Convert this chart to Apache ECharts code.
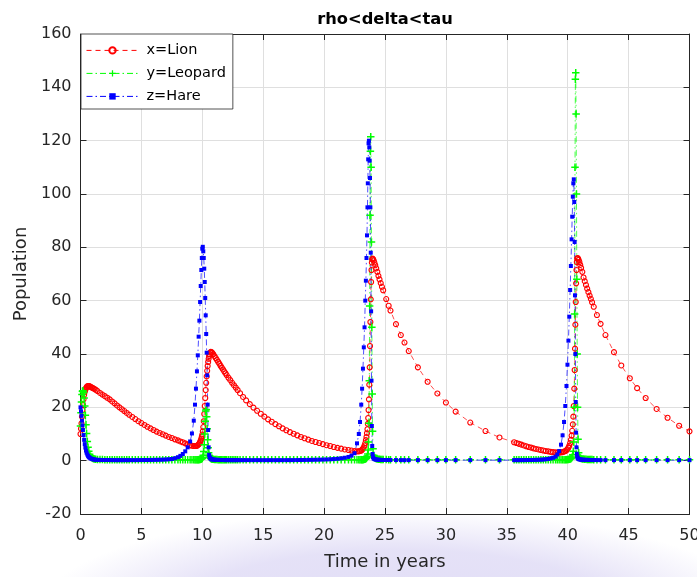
<!DOCTYPE html>
<html>
<head>
<meta charset="utf-8">
<script src="https://cdn.jsdelivr.net/npm/echarts@6/dist/echarts.min.js"></script>
<style>
  html, body { margin: 0; padding: 0; background: #ffffff; }
  #chart { width: 697px; height: 577px; }
</style>
</head>
<body>
<div id="chart"></div>
<script>
// Time samples of the solver output (years); dense where populations change fast
const years = [
  0, 0.04, 0.08, 0.12, 0.16, 0.2, 0.25, 0.3, 0.35, 0.4, 0.45, 0.5, 0.56, 0.62, 0.68, 0.75, 0.82, 0.9, 0.98, 1.06, 1.15, 1.25,
  1.4, 1.6, 1.8, 2.0, 2.2, 2.4, 2.6, 2.8, 3.0, 3.2, 3.4, 3.6, 3.8, 4.0, 4.25, 4.5, 4.75, 5.0, 5.25, 5.5, 5.75, 6.0, 6.25, 6.5, 6.75, 7.0, 7.25, 7.5, 7.75, 8.0, 8.2, 8.4, 8.6,
  8.8, 9.0, 9.15, 9.3, 9.4, 9.48, 9.56, 9.63, 9.7, 9.76, 9.82, 9.87, 9.92, 9.96, 10.0, 10.04, 10.08, 10.12, 10.16, 10.2, 10.24, 10.28, 10.32, 10.36, 10.4, 10.44, 10.48, 10.52, 10.56, 10.6, 10.65, 10.7, 10.76, 10.82, 10.9, 11.0,
  11.1, 11.2, 11.3, 11.4, 11.5, 11.6, 11.7, 11.8, 11.9, 12.0, 12.15, 12.3, 12.45, 12.6, 12.75, 12.9, 13.1, 13.35, 13.6, 13.9, 14.2, 14.5, 14.8, 15.1, 15.4, 15.7, 16.0, 16.3, 16.6, 16.9, 17.2, 17.5, 17.8, 18.1, 18.4, 18.7, 19.0, 19.3, 19.6, 19.9, 20.2, 20.5, 20.8, 21.1, 21.4, 21.7, 22.0, 22.25, 22.5,
  22.7, 22.85, 22.95, 23.05, 23.12, 23.19, 23.26, 23.32, 23.38, 23.43, 23.48, 23.52, 23.56, 23.59, 23.62, 23.65, 23.68, 23.71, 23.74, 23.77, 23.8, 23.83, 23.86, 23.89, 23.92, 23.95, 23.98, 24.02, 24.07, 24.13, 24.2, 24.28, 24.37, 24.46,
  24.55, 24.65, 24.75, 24.85, 25.1, 25.3, 25.45, 25.9, 26.3, 26.6, 26.95, 27.7, 28.5, 29.3, 30.0, 30.8, 32.0, 33.25, 34.4, 35.6, 35.8, 36.0, 36.2, 36.4, 36.6, 36.8, 37.0, 37.2, 37.4, 37.6, 37.8, 38.0, 38.2, 38.4, 38.6, 38.8, 39.0,
  39.15, 39.3, 39.45, 39.58, 39.7, 39.8, 39.9, 39.98, 40.06, 40.13, 40.2, 40.26, 40.32, 40.37, 40.42, 40.46, 40.5, 40.54, 40.57, 40.6, 40.63, 40.66, 40.69, 40.72, 40.75, 40.78, 40.81, 40.85, 40.9, 40.96, 41.03, 41.1, 41.2,
  41.3, 41.4, 41.5, 41.6, 41.7, 41.8, 41.9, 42.0, 42.14, 42.4, 42.7, 43.1, 43.8, 44.4, 45.1, 45.7, 46.4, 47.3, 48.2, 49.15, 50.0
];

// x = Lion
const lion = [
  10, 12, 14, 16.5, 19, 21, 23, 24.7, 25.8, 26.6, 27.2, 27.6, 27.9, 28.0, 28.0, 27.9, 27.7, 27.5, 27.3, 27.1, 26.9, 26.6,
  26.1, 25.4, 24.8, 24.2, 23.6, 23.0, 22.2, 21.5, 20.7, 20.0, 19.3, 18.6, 17.9, 17.2, 16.4, 15.6, 14.8, 14.1, 13.4, 12.7, 12.1, 11.5, 10.9, 10.4, 9.9, 9.4, 8.9, 8.5, 8.0, 7.6, 7.2, 6.9, 6.5,
  6.1, 5.8, 5.6, 5.5, 5.5, 5.5, 5.6, 5.8, 6.1, 6.5, 7.0, 7.6, 8.3, 9.0, 9.8, 11.0, 12.6, 14.8, 17.5, 20.5, 23.5, 26.5, 29.2, 31.6, 33.7, 35.5, 37.0, 38.2, 39.2, 39.9, 40.5, 40.8, 40.7, 40.4, 39.9, 39.2,
  38.5, 37.8, 37.1, 36.4, 35.6, 34.9, 34.2, 33.5, 32.8, 32.1, 31.1, 30.2, 29.2, 28.3, 27.4, 26.5, 25.3, 23.9, 22.6, 21.2, 19.9, 18.7, 17.6, 16.5, 15.5, 14.6, 13.7, 12.9, 12.1, 11.4, 10.7, 10.1, 9.5, 8.9, 8.4, 7.9, 7.4, 7.0, 6.6, 6.2, 5.8, 5.5, 5.1, 4.8, 4.5, 4.2, 4.0, 3.8, 3.6,
  3.5, 3.5, 3.6, 3.8, 4.1, 4.5, 5.0, 5.7, 6.6, 7.7, 8.9, 10.3, 11.8, 13.8, 16.0, 19.0, 23.0, 28.5, 35.0, 43.0, 52.0, 60.5, 67.0, 71.5, 74.3, 75.5, 75.8, 75.6, 75.1, 74.3, 73.3, 72.1, 70.8, 69.3,
  68.0, 66.6, 65.2, 63.9, 60.6, 58.1, 56.3, 51.2, 47.1, 44.3, 41.1, 35.0, 29.6, 25.2, 21.8, 18.4, 14.3, 11.1, 8.7, 6.9, 6.6, 6.3, 6.0, 5.7, 5.4, 5.1, 4.9, 4.6, 4.4, 4.2, 4.0, 3.8, 3.6, 3.5, 3.3, 3.2, 3.1,
  3.0, 3.0, 3.1, 3.2, 3.4, 3.6, 3.9, 4.3, 4.9, 5.6, 6.6, 7.8, 9.4, 11.2, 13.6, 16.5, 20.5, 27.0, 34.0, 42.0, 51.0, 59.5, 66.5, 71.5, 74.5, 75.8, 76.0, 75.8, 75.3, 74.5, 73.4, 72.3, 70.8,
  68.7, 67.3, 65.9, 64.5, 63.2, 61.9, 60.7, 59.4, 57.7, 54.6, 51.3, 47.1, 40.7, 35.7, 30.9, 27.2, 23.5, 19.4, 16.1, 13.1, 11.0
];

// y = Leopard
const leopard = [
  13, 18, 22, 24.8, 26, 26.2, 25.5, 23.5, 20.5, 17, 13.5, 10.2, 7.2, 5.0, 3.5, 2.4, 1.7, 1.2, 0.9, 0.7, 0.6, 0.5,
  0.45, 0.42, 0.4, 0.38, 0.37, 0.36, 0.35, 0.34, 0.33, 0.33, 0.32, 0.32, 0.31, 0.31, 0.3, 0.3, 0.3, 0.3, 0.3, 0.3, 0.3, 0.3, 0.3, 0.3, 0.3, 0.3, 0.3, 0.3, 0.3, 0.3, 0.3, 0.3, 0.3,
  0.3, 0.3, 0.3, 0.3, 0.3, 0.3, 0.32, 0.34, 0.37, 0.4, 0.45, 0.52, 0.62, 0.75, 0.95, 1.3, 2.0, 3.4, 6.0, 10.0, 14.8, 18.6, 19.2, 16.5, 12.0, 7.8, 4.8, 3.0, 2.0, 1.4, 1.0, 0.8, 0.65, 0.55, 0.5, 0.45,
  0.42, 0.4, 0.38, 0.37, 0.36, 0.35, 0.34, 0.33, 0.33, 0.32, 0.32, 0.31, 0.31, 0.3, 0.3, 0.3, 0.3, 0.3, 0.3, 0.3, 0.3, 0.3, 0.3, 0.3, 0.3, 0.3, 0.3, 0.3, 0.3, 0.3, 0.3, 0.3, 0.3, 0.3, 0.3, 0.3, 0.3, 0.3, 0.3, 0.3, 0.3, 0.3, 0.3, 0.3, 0.3, 0.3, 0.3, 0.3, 0.3,
  0.3, 0.3, 0.31, 0.32, 0.34, 0.37, 0.42, 0.5, 0.6, 0.75, 0.95, 1.25, 1.7, 2.5, 4.0, 7.0, 14, 30, 58, 92, 116, 121.5, 110, 82, 50, 25, 11, 4.5, 2.0, 1.2, 0.9, 0.7, 0.6, 0.55,
  0.5, 0.47, 0.45, 0.43, 0.4, 0.38, 0.37, 0.35, 0.33, 0.32, 0.31, 0.3, 0.3, 0.3, 0.3, 0.3, 0.3, 0.3, 0.3, 0.3, 0.3, 0.3, 0.3, 0.3, 0.3, 0.3, 0.3, 0.3, 0.3, 0.3, 0.3, 0.3, 0.3, 0.3, 0.3, 0.3, 0.3,
  0.3, 0.3, 0.31, 0.32, 0.33, 0.35, 0.37, 0.4, 0.45, 0.5, 0.6, 0.75, 1.0, 1.4, 2.2, 3.5, 7.0, 20, 55, 110, 143, 145.5, 130, 100, 68, 40, 20, 8, 3, 1.5, 1.0, 0.8, 0.65,
  0.6, 0.55, 0.5, 0.47, 0.45, 0.43, 0.41, 0.4, 0.38, 0.36, 0.34, 0.33, 0.32, 0.31, 0.3, 0.3, 0.3, 0.3, 0.3, 0.3, 0.3
];

// z = Hare
const hare = [
  20, 18.5, 16.8, 15.0, 13.2, 11.5, 9.6, 7.8, 6.2, 4.9, 3.8, 3.0, 2.3, 1.8, 1.4, 1.1, 0.9, 0.7, 0.6, 0.5, 0.4, 0.35,
  0.3, 0.28, 0.26, 0.25, 0.24, 0.23, 0.22, 0.21, 0.2, 0.2, 0.2, 0.2, 0.2, 0.2, 0.2, 0.21, 0.22, 0.23, 0.24, 0.25, 0.27, 0.29, 0.31, 0.34, 0.38, 0.44, 0.52, 0.62, 0.9, 1.3, 1.8, 2.5, 3.5,
  5.0, 7.2, 10.2, 15.0, 21.0, 27.0, 33.5, 39.5, 46.5, 52.5, 59.5, 65.5, 71.5, 76.0, 79.5, 80.2, 78.5, 76.0, 72.0, 67.0, 61.0, 54.5, 47.5, 40.5, 32.0, 21.0, 11.5, 5.0, 2.2, 1.3, 0.9, 0.7, 0.55, 0.45, 0.4, 0.35,
  0.32, 0.3, 0.28, 0.27, 0.26, 0.25, 0.24, 0.23, 0.22, 0.22, 0.21, 0.2, 0.2, 0.2, 0.2, 0.2, 0.2, 0.2, 0.2, 0.2, 0.2, 0.2, 0.2, 0.2, 0.2, 0.2, 0.2, 0.2, 0.2, 0.21, 0.21, 0.22, 0.23, 0.25, 0.27, 0.29, 0.31, 0.34, 0.37, 0.41, 0.45, 0.52, 0.6, 0.72, 0.88, 1.1, 1.4, 1.9, 2.8,
  6.5, 10.0, 14.5, 21.0, 27.0, 34.5, 42.5, 50.0, 60.0, 67.5, 76.0, 84.5, 95.0, 104.0, 113.0, 119.0, 120.0, 117.5, 112.5, 106.0, 95.0, 78.0, 56.0, 30.0, 13.0, 5.5, 2.5, 1.3, 0.8, 0.6, 0.5, 0.42, 0.37, 0.33,
  0.3, 0.28, 0.27, 0.26, 0.25, 0.24, 0.23, 0.22, 0.21, 0.2, 0.2, 0.2, 0.2, 0.2, 0.2, 0.2, 0.2, 0.2, 0.2, 0.2, 0.2, 0.2, 0.21, 0.22, 0.23, 0.24, 0.26, 0.28, 0.3, 0.33, 0.37, 0.43, 0.52, 0.65, 0.85, 1.1, 1.5,
  2.3, 3.6, 6.0, 9.5, 14.5, 20.5, 28.0, 36.0, 45.0, 54.0, 64.0, 73.0, 83.0, 91.5, 99.0, 104.0, 105.5, 97.0, 82.0, 62.0, 40.0, 22.0, 10.5, 5.0, 2.6, 1.6, 1.1, 0.8, 0.6, 0.5, 0.45, 0.4, 0.35,
  0.33, 0.31, 0.3, 0.28, 0.27, 0.26, 0.25, 0.24, 0.23, 0.22, 0.21, 0.2, 0.2, 0.2, 0.2, 0.2, 0.2, 0.2, 0.2, 0.2, 0.2
];

const seriesNames = ['x=Lion', 'y=Leopard', 'z=Hare'];
const titleText = 'rho<delta<tau';
const xAxisName = 'Time in years';
const yAxisName = 'Population';
const xScale = { min: 0, max: 50, interval: 5 };
const yScale = { min: -20, max: 160, interval: 20 };

const FONT = 'DejaVu Sans';
const INK = '#262626';

const pairs = (values) => years.map((t, i) => [t, values[i]]);

// Filled plus sign used as the Leopard marker
const PLUS = 'path://M3.2,0H4.8V3.2H8V4.8H4.8V8H3.2V4.8H0V3.2H3.2Z';

const axisFrame = {
  axisLine: { show: true, onZero: false, lineStyle: { color: INK, width: 1 } },
  axisTick: { show: true, inside: true, length: 6, lineStyle: { color: INK, width: 1 } }
};

const chart = echarts.init(document.getElementById('chart'), null, { renderer: 'canvas' });

chart.setOption({
  animation: false,
  backgroundColor: '#ffffff',
  textStyle: { fontFamily: FONT },
  // soft lavender tint of the page behind the lower edge of the figure
  graphic: [
    {
      type: 'circle', z: -10, silent: true,
      x: 400, y: 610, scaleX: 3.6, scaleY: 1.0,
      shape: { cx: 0, cy: 0, r: 100 },
      style: {
        fill: {
          type: 'radial', x: 0.5, y: 0.5, r: 0.5,
          colorStops: [
            { offset: 0, color: 'rgba(218,213,244,0.8)' },
            { offset: 0.6, color: 'rgba(218,213,244,0.7)' },
            { offset: 1, color: 'rgba(218,213,244,0)' }
          ]
        }
      }
    }
  ],
  title: {
    text: titleText,
    left: 385,
    top: 11.5,
    textAlign: 'center',
    padding: 0,
    textStyle: { fontFamily: FONT, fontSize: 16.3, fontWeight: 'bold', color: '#000000' }
  },
  legend: {
    data: seriesNames,
    orient: 'vertical',
    left: 81,
    top: 34,
    padding: [8.4, 7, 4.6, 5],
    itemWidth: 52,
    itemHeight: 8,
    itemGap: 7,
    backgroundColor: '#ffffff',
    borderColor: INK,
    borderWidth: 0.8,
    borderRadius: 0,
    selectedMode: false,
    lineStyle: { width: 1 },
    textStyle: { fontFamily: FONT, fontSize: 14.5, color: '#000000', lineHeight: 16, padding: [0, 0, 0, 3] }
  },
  grid: {
    left: 80.5,
    right: 7.5,
    top: 34,
    bottom: 63,
    containLabel: false,
    outerBoundsMode: 'none',
    backgroundColor: '#ffffff',
    show: true,
    borderWidth: 0
  },
  xAxis: [
    Object.assign({
      type: 'value',
      position: 'bottom',
      min: xScale.min, max: xScale.max, interval: xScale.interval,
      axisLabel: { fontFamily: FONT, fontSize: 16, color: INK, margin: 14 },
      splitLine: { show: true, lineStyle: { color: '#dfdfdf', width: 1 } },
      name: xAxisName,
      nameLocation: 'middle',
      nameGap: 39,
      nameTextStyle: { fontFamily: FONT, fontSize: 18, color: INK }
    }, axisFrame),
    Object.assign({
      type: 'value',
      position: 'top',
      min: xScale.min, max: xScale.max, interval: xScale.interval,
      axisLabel: { show: false },
      splitLine: { show: false }
    }, axisFrame)
  ],
  yAxis: [
    Object.assign({
      type: 'value',
      position: 'left',
      min: yScale.min, max: yScale.max, interval: yScale.interval,
      axisLabel: { fontFamily: FONT, fontSize: 16, color: INK, margin: 9 },
      splitLine: { show: true, lineStyle: { color: '#dfdfdf', width: 1 } },
      name: yAxisName,
      nameLocation: 'middle',
      nameGap: 46,
      nameTextStyle: { fontFamily: FONT, fontSize: 18, color: INK }
    }, axisFrame),
    Object.assign({
      type: 'value',
      position: 'right',
      min: yScale.min, max: yScale.max, interval: yScale.interval,
      axisLabel: { show: false },
      splitLine: { show: false }
    }, axisFrame)
  ],
  series: [
    {
      name: seriesNames[0],
      type: 'line',
      xAxisIndex: 0, yAxisIndex: 0,
      data: pairs(lion),
      symbol: 'circle',
      symbolSize: 5,
      showAllSymbol: true,
      silent: true,
      lineStyle: { color: '#ff0000', width: 0.7, type: [5, 4] },
      itemStyle: { color: 'rgba(255,255,255,0)', borderColor: '#ff0000', borderWidth: 1.1 }
    },
    {
      name: seriesNames[1],
      type: 'line',
      xAxisIndex: 0, yAxisIndex: 0,
      data: pairs(leopard),
      symbol: PLUS,
      symbolSize: 7.5,
      showAllSymbol: true,
      silent: true,
      lineStyle: { color: '#00ff00', width: 0.7, type: [6, 3, 1.5, 3] },
      itemStyle: { color: '#00ff00' }
    },
    {
      name: seriesNames[2],
      type: 'line',
      xAxisIndex: 0, yAxisIndex: 0,
      data: pairs(hare),
      symbol: 'rect',
      symbolSize: 4,
      showAllSymbol: true,
      silent: true,
      lineStyle: { color: '#0000ff', width: 0.7, type: [6, 3, 1.5, 3] },
      itemStyle: { color: '#0000ff' }
    }
  ]
});
</script>
</body>
</html>
